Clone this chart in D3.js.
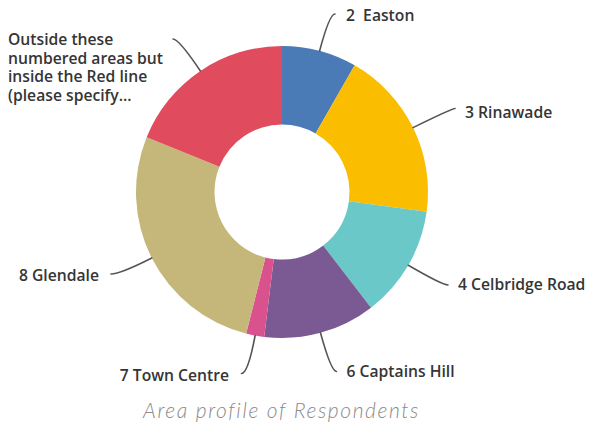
<!DOCTYPE html>
<html>
<head>
<meta charset="utf-8">
<script src="https://cdn.jsdelivr.net/npm/d3@7/dist/d3.min.js"></script>
<style>
  html, body { margin: 0; padding: 0; background: #ffffff; }
  #wrap { position: relative; width: 591px; height: 428px; }
  svg { display: block; position: absolute; left: 0; top: 0; }
  .lbl { font-family: "Open Sans", Roboto, sans-serif; font-weight: 600; font-size: 15.7px; fill: #353535; white-space: pre; }
  .multi { position: absolute; font-family: "Open Sans", Roboto, sans-serif; font-weight: 600; font-size: 15.7px;
           line-height: 18.7px; color: #353535; white-space: nowrap; margin: 0; }
  .title { font-family: Lato, "DejaVu Sans", sans-serif; font-weight: 300; font-style: italic; font-size: 21px; letter-spacing: 1.6px; fill: #8a8a8a; }
</style>
</head>
<body>
<div id="wrap"></div>
<script>
// Area profile of respondents (% share per area)
const areas = ["2  Easton", "3 Rinawade", "4 Celbridge Road", "6 Captains Hill", "7 Town Centre", "8 Glendale",
  "Outside these numbered areas but inside the Red line (please specify..."];
const shares = [8.3, 18.9, 12.4, 12.4, 2.0, 27.2, 18.9];
const colors = ["#4a7bb7", "#fbbd00", "#6bc8c9", "#7b5a93", "#d9528e", "#c5b67a", "#e04b5d"];
const titleText = "Area profile of Respondents";

// Label text lines (wrapped for the long outside-area label)
const labelLines = [
  ["2  Easton"], ["3 Rinawade"], ["4 Celbridge Road"], ["6 Captains Hill"], ["7 Town Centre"], ["8 Glendale"],
  ["Outside these", "numbered areas but", "inside the Red line", "(please specify..."]
];

// Leader end point for each label and where its text sits
const labelLayout = [
  { ex: 335, ey: 14,  tx: 346, ty: 20.5, anchor: "start" },
  { ex: 455, ey: 108.5, tx: 465, ty: 118, anchor: "start" },
  { ex: 448, ey: 285, tx: 458, ty: 290, anchor: "start" },
  { ex: 336.5, ey: 371.5, tx: 346.5, ty: 377, anchor: "start" },
  { ex: 241.5, ey: 373.5, tx: 229, ty: 381, anchor: "end" },
  { ex: 111, ey: 274, tx: 99, ty: 280.5, anchor: "end" },
  { ex: 173, ey: 39, tx: 8, ty: 30, anchor: "start", multi: true }
];

const W = 591, H = 428;
const cx = 282, cy = 192, rOuter = 146, rInner = 67.5;

const wrap = d3.select("#wrap");
const svg = wrap.append("svg").attr("width", W).attr("height", H);
const g = svg.append("g").attr("transform", `translate(${cx},${cy})`);

const data = areas.map((a, i) => ({ area: a, value: shares[i], color: colors[i], i }));
const pie = d3.pie().value(d => d.value).sort(null);
const arcs = pie(data);
const arc = d3.arc().innerRadius(rInner).outerRadius(rOuter);

g.selectAll("path.slice").data(arcs).join("path")
  .attr("class", "slice")
  .attr("d", arc)
  .attr("fill", d => d.data.color);

// Leader lines: leave each slice radially, then bend horizontally into the label
arcs.forEach((d, i) => {
  const mid = (d.startAngle + d.endAngle) / 2;
  const ux = Math.sin(mid), uy = -Math.cos(mid);
  const sx = cx + ux * rOuter, sy = cy + uy * rOuter;
  const L = labelLayout[i];
  const k = (L.ey - sy) / uy;
  const qx = sx + ux * k, qy = L.ey;
  const p = d3.path();
  p.moveTo(sx, sy);
  p.quadraticCurveTo(qx, qy, L.ex, L.ey);
  svg.append("path").attr("d", p.toString())
    .attr("fill", "none").attr("stroke", "#555555").attr("stroke-width", 1.6)
    .attr("stroke-linecap", "round");

  if (L.multi) {
    // wrapped label as a block with tight line spacing
    const div = wrap.append("div").attr("class", "multi")
      .style("left", L.tx + "px").style("top", L.ty + "px");
    labelLines[i].forEach((line, j) => {
      if (j > 0) div.append("br");
      div.append("span").text(line);
    });
  } else {
    svg.append("text").attr("class", "lbl")
      .attr("x", L.tx).attr("y", L.ty)
      .attr("text-anchor", L.anchor)
      .text(labelLines[i][0]);
  }
});

svg.append("text").attr("class", "title")
  .attr("x", 143).attr("y", 418).text(titleText);
</script>
</body>
</html>
